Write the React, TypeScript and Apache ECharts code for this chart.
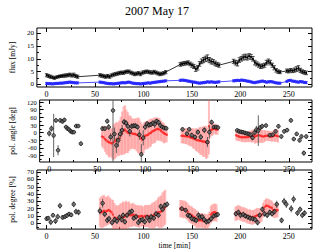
import React, { useEffect, useRef } from "react";
import * as echarts from "echarts";

const titleText = "2007 May 17";
const xMajor = [0, 50, 100, 150, 200, 250];
const xMinor = [25, 75, 125, 175, 225];
const fluxMajor = [0, 5, 10, 15, 20];
const fluxMinor = [2.5, 7.5, 12.5, 17.5];
const angleMajor = [-90, -60, -30, 0, 30, 60, 90, 120];
const angleMinor = [-105, -75, -45, -15, 15, 45, 75, 105];
const degMajor = [0, 10, 20, 30, 40, 50, 60, 70];
const degMinor = [-5, 5, 15, 25, 35, 45, 55, 65];

type P = [number, number, number];

const fluxBlack: P[] = [
  [0, 3.6, 0.6], [2, 3.3, 0.6], [4, 3.0, 0.6], [6, 2.8, 0.5], [8, 2.5, 0.5], [10, 2.8, 0.5], [12, 3.0, 0.5], [14, 3.2, 0.5], [16, 3.3, 0.5], [18, 3.4, 0.6], [20, 3.5, 0.6], [22, 3.6, 0.6], [24, 3.8, 0.6], [26, 3.5, 0.6], [28, 3.7, 0.7], [30, 3.3, 0.6], [32, 3.0, 0.6],
  [55, 3.6, 0.6], [57, 3.4, 0.6], [59, 3.2, 0.6], [61, 3.0, 0.6], [63, 3.3, 0.6], [65, 3.0, 0.6], [67, 3.5, 0.6], [69, 3.8, 0.6], [71, 4.0, 0.6], [73, 4.2, 0.6], [75, 4.4, 0.6], [77, 4.6, 0.6], [79, 4.5, 0.6], [81, 4.8, 0.6], [83, 5.0, 0.6], [85, 5.0, 0.6], [87, 4.6, 0.6], [89, 4.3, 0.6], [91, 4.0, 0.6], [93, 4.2, 0.6], [95, 4.4, 0.6], [97, 4.0, 0.6], [99, 4.6, 0.6], [101, 4.8, 0.6], [103, 5.0, 0.6], [105, 4.9, 0.6], [107, 4.7, 0.6], [109, 4.6, 0.6], [111, 4.9, 0.6], [113, 4.6, 0.6], [115, 4.3, 0.6], [117, 4.0, 0.6], [119, 4.2, 0.6], [121, 4.4, 0.6], [123, 4.8, 0.6],
  [138, 7.8, 0.7], [140, 8.0, 0.7], [142, 8.2, 0.7], [144, 8.3, 0.7], [146, 8.5, 0.7], [148, 8.0, 0.7], [150, 7.5, 0.8], [152, 7.0, 0.8], [154, 6.0, 0.9], [156, 6.5, 0.9], [158, 8.0, 0.9], [160, 9.0, 0.9], [162, 9.5, 1.0], [164, 10.0, 1.0], [166, 10.3, 1.2], [168, 9.5, 1.0], [170, 9.0, 1.0], [172, 8.8, 0.9], [174, 8.2, 0.9], [176, 7.8, 0.8], [178, 7.5, 0.8],
  [193, 9.0, 0.8], [195, 8.5, 0.9], [197, 8.2, 1.0], [199, 9.5, 0.9], [201, 10.0, 0.9], [203, 10.5, 1.0], [205, 10.8, 1.0], [207, 10.5, 1.0], [209, 11.0, 1.0], [211, 10.7, 1.0], [213, 10.0, 0.9], [215, 8.5, 0.9], [217, 8.0, 0.8], [219, 7.5, 0.8], [221, 7.0, 0.8], [223, 7.2, 0.8], [225, 7.5, 0.8], [227, 8.5, 0.9], [229, 9.0, 0.9], [231, 8.5, 0.9], [233, 7.5, 0.8], [235, 6.5, 0.8], [237, 5.5, 0.7], [239, 5.0, 0.7], [241, 4.8, 0.6],
  [248, 5.3, 0.7], [250, 5.2, 0.7], [252, 5.5, 0.7], [254, 5.3, 0.7], [256, 5.6, 0.8], [258, 6.0, 0.9], [260, 6.3, 1.0], [262, 5.5, 0.8], [264, 5.0, 0.7], [266, 4.7, 0.7], [268, 4.5, 0.7],
];

const fluxBlue: P[] = [
  [0, 0.4, 0.4], [2, 0.3, 0.4], [4, 0.3, 0.4], [6, 0.2, 0.4], [8, 0.3, 0.4], [10, 0.4, 0.4], [12, 0.4, 0.4], [14, 0.5, 0.4], [16, 0.5, 0.4], [18, 0.6, 0.4], [20, 0.7, 0.4], [22, 0.8, 0.4], [24, 0.9, 0.4], [26, 0.8, 0.4], [28, 0.7, 0.4], [30, 0.6, 0.4], [32, 0.6, 0.4],
  [55, 0.9, 0.4], [57, 0.8, 0.4], [59, 0.7, 0.4], [61, 0.5, 0.4], [63, 0.4, 0.4], [65, 0.3, 0.4], [67, 0.3, 0.4], [69, 0.2, 0.4], [71, 0.3, 0.4], [73, 0.4, 0.4], [75, 0.5, 0.4], [77, 0.6, 0.4], [79, 0.7, 0.4], [81, 0.6, 0.4], [83, 0.8, 0.4], [85, 0.9, 0.4], [87, 0.7, 0.4], [89, 0.5, 0.4], [91, 0.4, 0.4], [93, 0.3, 0.4], [95, 0.3, 0.4], [97, 0.2, 0.4], [99, 0.3, 0.4], [101, 0.4, 0.4], [103, 0.5, 0.4], [105, 0.6, 0.4], [107, 0.5, 0.4], [109, 0.7, 0.4], [111, 0.8, 0.4], [113, 0.9, 0.4], [115, 1.0, 0.4], [117, 1.1, 0.4], [119, 1.2, 0.4], [121, 1.3, 0.4], [123, 1.4, 0.4],
  [138, 1.6, 0.4], [140, 1.7, 0.4], [142, 1.6, 0.4], [144, 1.5, 0.4], [146, 1.3, 0.4], [148, 1.2, 0.4], [150, 1.0, 0.4], [152, 0.9, 0.4], [154, 0.8, 0.4], [156, 0.6, 0.4], [158, 0.5, 0.4], [160, 0.6, 0.4], [162, 0.7, 0.4], [164, 0.8, 0.4], [166, 1.0, 0.4], [168, 0.9, 0.4], [170, 1.0, 0.4], [172, 0.9, 0.4], [174, 0.8, 0.4], [176, 0.9, 0.4], [178, 1.0, 0.4],
  [193, 1.4, 0.4], [195, 1.5, 0.4], [197, 1.6, 0.4], [199, 1.5, 0.4], [201, 1.7, 0.4], [203, 1.6, 0.4], [205, 1.5, 0.4], [207, 1.3, 0.4], [209, 1.2, 0.4], [211, 1.0, 0.4], [213, 0.8, 0.4], [215, 0.7, 0.4], [217, 0.9, 0.4], [219, 1.0, 0.4], [221, 1.2, 0.4], [223, 1.3, 0.4], [225, 1.1, 0.4], [227, 0.9, 0.4], [229, 1.0, 0.4], [231, 1.1, 0.4], [233, 1.0, 0.4], [235, 0.8, 0.4], [237, 0.6, 0.4], [239, 0.5, 0.4], [241, 0.5, 0.4],
  [248, 1.2, 0.4], [250, 1.5, 0.4], [252, 1.6, 0.4], [254, 1.3, 0.4], [256, 1.2, 0.4], [258, 1.0, 0.4], [260, 0.9, 0.4], [262, 1.1, 0.4], [264, 1.0, 0.4], [266, 0.8, 0.4], [268, 0.7, 0.4],
];

const angleBlack: P[] = [
  [0, -3, 12], [2.3, 16, 12], [4.6, -11, 85], [7, 48, 8], [9.2, -69, 20], [11.5, 48, 8], [13.8, 44, 8], [15.8, 50, 8], [17.5, 22, 6], [19.1, 16, 6], [20.8, 12, 6], [22.4, 5, 6], [24.1, 2, 6], [25.7, 2, 6], [28, 26, 6], [30.3, 26, 6], [33, -43, 8],
  [55.5, 16, 8], [58, 16, 8], [60.5, 45, 10], [62, 22, 12], [64, -17, 15], [66.5, 87, 220], [68, -5, 25], [70, -50, 30], [72, -30, 25], [74, -5, 20], [76, 10, 20], [78, 42, 12], [80, 38, 12], [82, 25, 12], [84, 5, 20], [86, 25, 12], [88, 27, 10], [90, 27, 10], [92, 22, 10], [94, -8, 20], [96, -85, 40], [98, -20, 30], [100, 22, 12], [102, 35, 10], [104, 30, 12], [106, 32, 10], [108, 38, 10], [110, 33, 15], [112, 45, 10], [114, 40, 10], [116, 28, 10], [118, 22, 8], [120, 18, 8], [122, 17, 6],
  [139, 13, 6], [143.6, -4, 8], [146, 13, 8], [148.5, -10, 10], [152, -17, 10], [155, 2, 10], [158, -17, 12], [161.7, 10, 12], [165, -37, 20], [167, 2, 25], [169.3, 41, 10], [171.6, 22, 8], [174, 22, 6], [176, 20, 6],
  [196, 9, 6], [198, 5, 6], [200, 3, 6], [202, 2, 6], [204, -1, 6], [206, -3, 6], [208, -5, 6], [210, -8, 8], [212, -20, 10], [214, 0, 10], [216, 12, 15], [218, 8, 60], [220, 20, 10], [222, 25, 10], [226, 28, 8], [230, -10, 8], [233, -8, 8], [236, 5, 8], [239, 25, 8], [242, -15, 8], [245, 5, 8], [248, 10, 8], [252, 48, 8], [255, -25, 8], [258, -5, 8], [261, -30, 8], [263, -15, 8], [265.5, -80, 10], [268, -15, 8],
];

const angleRed: P[] = [
  [55, -15, 40], [56.5, -18, 45], [58, -25, 50], [59.5, -30, 55], [61, -35, 55], [62.5, -38, 60], [64, -40, 55], [65.5, -42, 60], [67, -38, 70], [68.5, -33, 70], [70, -28, 70], [71.5, -25, 65], [73, -22, 70], [74.5, -12, 75], [76, -2, 85], [77.5, 8, 95], [79, 12, 95], [80.5, 5, 85], [82, 0, 80], [83.5, -2, 70], [85, 0, 65], [86.5, -3, 60], [88, -5, 60], [89.5, -5, 60], [91, -8, 65], [92.5, -10, 70], [94, -14, 70], [95.5, -22, 65], [97, -28, 60], [98.5, -20, 60], [100, -12, 55], [101.5, -10, 55], [103, -8, 55], [104.5, -3, 55], [106, 0, 55], [107.5, 5, 50], [109, 8, 50], [110.5, 10, 50], [112, 14, 45], [113.5, 15, 45], [115, 12, 45], [116.5, 8, 40], [118, 3, 40], [119.5, -2, 40], [121, -5, 35], [122.5, -8, 30],
  [138, -12, 30], [139.5, -12, 30], [141, -14, 30], [142.5, -13, 32], [144, -15, 32], [145.5, -15, 35], [147, -18, 35], [148.5, -20, 35], [150, -22, 40], [151.5, -25, 40], [153, -27, 45], [154.5, -30, 45], [156, -30, 50], [157.5, -32, 55], [159, -33, 55], [160.5, -35, 60], [162, -35, 60], [163.5, -38, 65], [165, -40, 60], [166.5, 25, 110], [168, 10, 30], [169.5, 12, 25], [171, 15, 25], [172.5, 15, 20], [174, 12, 20], [175.5, 12, 20],
  [195, -10, 20], [196.5, -13, 20], [198, -15, 18], [199.5, -17, 18], [201, -18, 18], [202.5, -18, 20], [204, -17, 20], [205.5, -18, 20], [207, -17, 20], [208.5, -15, 22], [210, -15, 22], [211.5, -14, 25], [213, -12, 25], [214.5, -15, 28], [216, -12, 30], [217.5, -10, 30], [219, -10, 30], [220.5, -12, 28], [222, -14, 25], [223.5, -15, 25], [225, -13, 22], [226.5, -12, 20], [228, -12, 20], [229.5, -13, 20], [231, -15, 20], [232.5, -15, 20], [234, -12, 22], [235.5, -10, 25], [237, -12, 25], [238.5, -14, 25],
];

const degBlack: P[] = [
  [0, 6.3, 3], [1.7, 7, 3], [4.3, 1.5, 4], [6.6, 11, 3], [9.2, 3, 4], [11.5, 9, 4], [13.8, 24, 4], [16.5, 8, 3], [18.8, 9, 3], [20.8, 10.5, 3], [23.1, 12.5, 3], [25.4, 11.5, 3], [28, 26, 4], [30.3, 16, 4], [33, 15, 4],
  [55, 17, 5], [57.8, 27.5, 6], [60, 12.5, 4], [62.7, 4, 4], [64.4, 6.3, 4], [67.6, 1, 4], [70.3, 5, 4], [72.6, 3, 4], [75.2, 8, 4], [77.5, 5, 4], [79, 11, 4], [80.8, 2, 4], [83, 11, 4], [85.8, 15, 4], [88, 16.5, 4], [90, 7, 4], [92.4, 9, 4], [94.7, 1, 4], [96.7, 4, 4], [99, 5, 4], [101.3, 2, 4], [103.9, 8, 4], [106.2, 4, 4], [108, 9, 4], [110.6, 7, 4], [112.9, 13, 4], [115.5, 11, 4], [117.8, 23, 4], [119.8, 19, 4], [122, 24.5, 4], [124.4, 26, 4],
  [139.6, 20, 3], [143.5, 18, 3], [145.9, 11, 4], [147.9, 10, 4], [150, 6.3, 4], [152.5, 5, 4], [154.5, 4, 4], [156.8, 11, 4], [158.4, 8, 4], [160.7, 9, 4], [162.7, 5, 4], [165, 2, 4], [167.3, 3, 4], [170, 6.3, 4], [172.6, 10, 4], [175, 11, 3], [176.6, 12, 3],
  [195.4, 13, 4], [198, 15, 4], [200.3, 11, 4], [203, 12, 4], [205.3, 10, 4], [207.9, 8.5, 4], [210.2, 7, 4], [212.8, 6.3, 4], [215.2, 5, 4], [217.8, 1, 4], [220, 11, 4], [222.8, 19, 4], [225, 13, 4], [227.7, 11, 4], [230.4, 15, 4], [232.7, 13, 4], [235.3, 16, 4], [237.6, 26, 5],
  [242.6, 4, 4], [245.2, 30, 5], [247.5, 26, 5], [252.5, 20, 5], [255, 33, 5], [259, 14, 4], [261.7, 19, 4], [264, 11, 4], [266.3, 14, 4],
];

const degRed: P[] = [
  [55, 15, 20], [56.5, 15, 22], [58, 16, 22], [59.5, 17, 22], [61, 16, 20], [62.5, 17, 20], [64, 18, 20], [65.5, 17, 18], [67, 15, 18], [68.5, 12, 20], [70, 8, 20], [71.5, 7, 18], [73, 6, 18], [74.5, 7, 18], [76, 7, 20], [77.5, 8, 20], [79, 8, 22], [80.5, 9, 20], [82, 11, 20], [83.5, 11, 18], [85, 12, 18], [86.5, 11, 16], [88, 11, 16], [89.5, 12, 16], [91, 11, 15], [92.5, 10, 15], [94, 10, 15], [95.5, 9, 15], [97, 10, 15], [98.5, 10, 14], [100, 9, 14], [101.5, 10, 15], [103, 10, 15], [104.5, 10, 15], [106, 9, 16], [107.5, 10, 16], [109, 10, 18], [110.5, 11, 18], [112, 12, 18], [113.5, 14, 18], [115, 15, 20], [116.5, 15, 22], [118, 16, 22], [119.5, 18, 24], [121, 20, 24], [122.5, 22, 24],
  [138, 20, 12], [139.5, 20, 12], [141, 19, 12], [142.5, 19, 12], [144, 18, 12], [145.5, 16, 12], [147, 13, 12], [148.5, 12, 12], [150, 11, 12], [151.5, 9, 12], [153, 8, 12], [154.5, 6, 12], [156, 5, 12], [157.5, 4, 10], [159, 4, 10], [160.5, 4, 10], [162, 3, 10], [163.5, 3, 10], [165, 2, 10], [166.5, 3, 10], [168, 6, 10], [169.5, 12, 12], [171, 14, 12], [172.5, 15, 12], [174, 15, 12], [175.5, 14, 12],
  [195, 13, 10], [196.5, 14, 10], [198, 15, 10], [199.5, 14, 10], [201, 13, 10], [202.5, 12, 10], [204, 12, 10], [205.5, 11, 10], [207, 10, 10], [208.5, 9, 10], [210, 9, 10], [211.5, 8, 10], [213, 8, 10], [214.5, 9, 10], [216, 10, 10], [217.5, 11, 10], [219, 11, 10], [220.5, 10, 10], [222, 12, 10], [223.5, 18, 10], [225, 22, 10], [226.5, 24, 10], [228, 24, 10], [229.5, 23, 10], [231, 22, 10], [232.5, 21, 10], [234, 18, 10], [235.5, 17, 10], [237, 18, 10], [238.5, 18, 10],
];

const FONT = "'Liberation Serif', 'DejaVu Serif', serif";

function errBars(color: string, lw: number, cap: number, rectW: number) {
  return (params: any, api: any) => {
    const t = api.value(0), v = api.value(1), e = api.value(2);
    const cs = params.coordSys;
    const pLo = api.coord([t, v - e]);
    const pHi = api.coord([t, v + e]);
    const x = pLo[0];
    if (x < cs.x || x > cs.x + cs.width) return null;
    const top = cs.y, bot = cs.y + cs.height;
    const yHi = Math.max(top, Math.min(bot, pHi[1]));
    const yLo = Math.max(top, Math.min(bot, pLo[1]));
    if (rectW > 0) {
      return {
        type: "rect",
        shape: { x: x - rectW / 2, y: yHi, width: rectW, height: Math.max(0, yLo - yHi) },
        style: { fill: color },
      };
    }
    const children: any[] = [
      { type: "line", shape: { x1: x, y1: yLo, x2: x, y2: yHi }, style: { stroke: color, lineWidth: lw } },
    ];
    if (cap > 0) {
      if (pHi[1] >= top) children.push({ type: "line", shape: { x1: x - cap / 2, y1: yHi, x2: x + cap / 2, y2: yHi }, style: { stroke: color, lineWidth: lw } });
      if (pLo[1] <= bot) children.push({ type: "line", shape: { x1: x - cap / 2, y1: yLo, x2: x + cap / 2, y2: yLo }, style: { stroke: color, lineWidth: lw } });
    }
    return { type: "group", children };
  };
}

const XMIN = -10, XMAX = 274;

function tickAxes(kind: "x" | "y", gi: number, min: number, max: number, major: number[], minor: number[], labelSize: number, name?: string, nameGap?: number) {
  const posA = kind === "x" ? "bottom" : "left";
  const posB = kind === "x" ? "top" : "right";
  const base = { gridIndex: gi, type: "value", min, max, splitLine: { show: false }, axisLine: { show: false, onZero: false } };
  const lab = { show: false };
  return [
    {
      ...base, position: posA,
      axisTick: { show: true, inside: true, length: 4, customValues: major, lineStyle: { color: "#000", width: 1 } },
      axisLabel: { show: true, customValues: major, fontSize: labelSize, fontFamily: FONT, color: "#000", margin: 3 },
      name, nameLocation: "middle", nameGap,
      nameTextStyle: { fontSize: 7.5, fontFamily: FONT, color: "#000" },
    },
    { ...base, position: posA, axisTick: { show: true, inside: true, length: 2, customValues: minor, lineStyle: { color: "#000", width: 1 } }, axisLabel: lab },
    { ...base, position: posB, axisTick: { show: true, inside: true, length: 4, customValues: major, lineStyle: { color: "#000", width: 1 } }, axisLabel: lab },
    { ...base, position: posB, axisTick: { show: true, inside: true, length: 2, customValues: minor, lineStyle: { color: "#000", width: 1 } }, axisLabel: lab },
  ];
}

export default function App() {
  const ref = useRef<HTMLDivElement>(null);
  useEffect(() => {
    if (!ref.current) return;
    const chart = echarts.init(ref.current, null, { renderer: "svg" });
    const grids = [
      { left: 25, right: 2, top: 28, height: 59 },
      { left: 25, right: 2, top: 100, height: 62 },
      { left: 25, right: 2, top: 170, height: 63 },
    ].map((g) => ({ ...g, show: true, borderColor: "#000", borderWidth: 1, backgroundColor: "transparent" }));

    const xAxis = [
      ...tickAxes("x", 0, XMIN, XMAX, xMajor, xMinor, 8),
      ...tickAxes("x", 1, XMIN, XMAX, xMajor, xMinor, 8),
      ...tickAxes("x", 2, XMIN, XMAX, xMajor, xMinor, 8, "time [min]", 11),
    ];
    const yAxis = [
      ...tickAxes("y", 0, -1, 22, fluxMajor, fluxMinor, 7, "flux [mJy]", 12),
      ...tickAxes("y", 1, -115, 128, angleMajor, angleMinor, 6.5, "pol. angle [deg]", 14),
      ...tickAxes("y", 2, -8, 73, degMajor, degMinor, 7, "pol. degree [%]", 12),
    ];
    const ax = (g: number) => ({ xAxisIndex: g * 4, yAxisIndex: g * 4 });

    const series: any[] = [
      { type: "custom", ...ax(0), renderItem: errBars("#2222ff", 0.8, 3, 0), data: fluxBlue, encode: { x: 0, y: 1 }, z: 2 },
      { type: "line", ...ax(0), data: fluxBlue.map((d) => [d[0], d[1]]), symbol: "circle", symbolSize: 2, lineStyle: { color: "#2222ff", width: 0.8 }, itemStyle: { color: "#2222ff" }, z: 3 },
      { type: "custom", ...ax(0), renderItem: errBars("#222", 0.8, 3.5, 0), data: fluxBlack, encode: { x: 0, y: 1 }, z: 4 },
      { type: "line", ...ax(0), data: fluxBlack.map((d) => [d[0], d[1]]), symbol: "circle", symbolSize: 2, lineStyle: { color: "#000", width: 0.8 }, itemStyle: { color: "#000" }, z: 5 },
      { type: "custom", ...ax(1), renderItem: errBars("rgba(255,90,90,0.4)", 0, 0, 2), data: angleRed, encode: { x: 0, y: 1 }, z: 2 },
      { type: "scatter", ...ax(1), data: angleRed.map((d) => [d[0], d[1]]), symbol: "circle", symbolSize: 2.5, itemStyle: { color: "#ff1a1a" }, z: 3 },
      { type: "custom", ...ax(1), renderItem: errBars("#555", 0.9, 0, 0), data: angleBlack, encode: { x: 0, y: 1 }, z: 4 },
      { type: "scatter", ...ax(1), data: angleBlack.map((d) => [d[0], d[1]]), symbol: "circle", symbolSize: 3.6, itemStyle: { color: "#666", borderColor: "#000", borderWidth: 0.9 }, z: 5 },
      { type: "custom", ...ax(2), renderItem: errBars("rgba(255,90,90,0.4)", 0, 0, 2), data: degRed, encode: { x: 0, y: 1 }, z: 2 },
      { type: "scatter", ...ax(2), data: degRed.map((d) => [d[0], d[1]]), symbol: "circle", symbolSize: 2.5, itemStyle: { color: "#ff1a1a" }, z: 3 },
      { type: "custom", ...ax(2), renderItem: errBars("#555", 0.9, 0, 0), data: degBlack, encode: { x: 0, y: 1 }, z: 4 },
      { type: "scatter", ...ax(2), data: degBlack.map((d) => [d[0], d[1]]), symbol: "circle", symbolSize: 3.6, itemStyle: { color: "#666", borderColor: "#000", borderWidth: 0.9 }, z: 5 },
    ];

    chart.setOption({
      animation: false,
      backgroundColor: "#fff",
      title: { text: titleText, left: "center", top: 0, textStyle: { fontSize: 12, fontWeight: "normal", fontFamily: FONT, color: "#000" } },
      grid: grids,
      xAxis,
      yAxis,
      series,
    });
    return () => chart.dispose();
  }, []);
  return <div ref={ref} style={{ position: "absolute", left: 0, top: 0, width: 314, height: 250 }} />;
}
